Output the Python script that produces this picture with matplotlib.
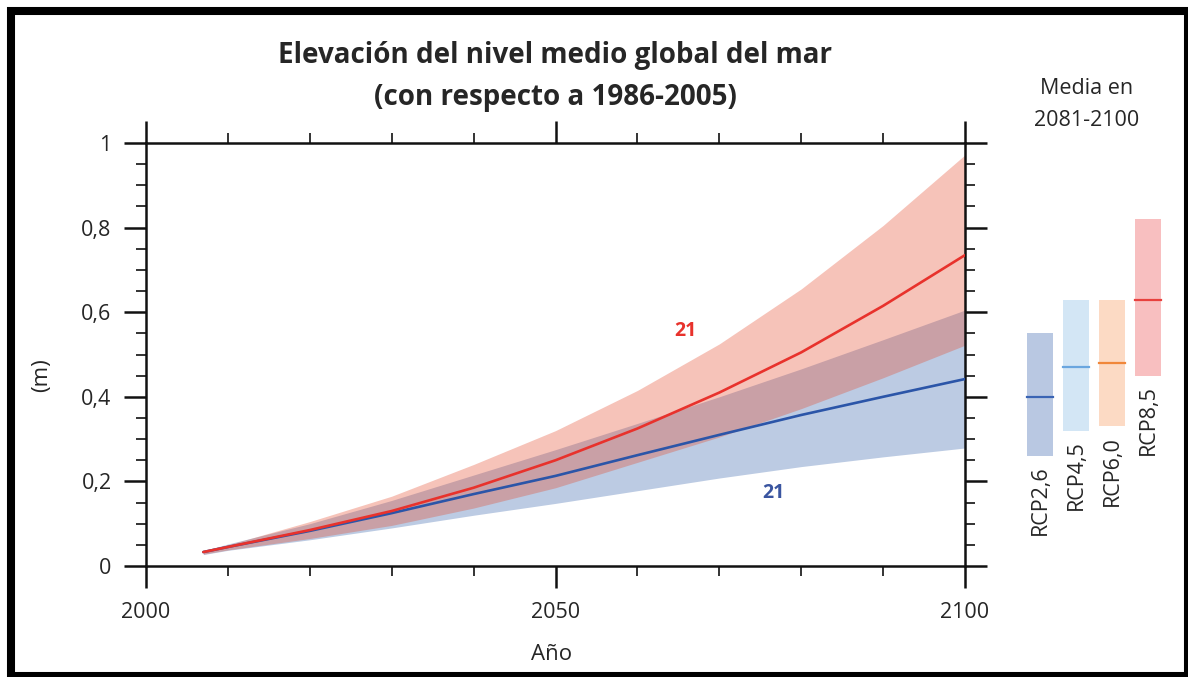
import numpy as np
import matplotlib
matplotlib.use("Agg")
import matplotlib.pyplot as plt
from matplotlib.patches import Rectangle
from matplotlib.ticker import MultipleLocator, FixedLocator

plt.rcParams['font.family'] = ['Open Sans', 'DejaVu Sans']

# projected global mean sea level rise (m), relative to 1986-2005
years = [2007, 2010, 2020, 2030, 2040, 2050, 2060, 2070, 2080, 2090, 2100]
rcp26_mean = [0.033, 0.045, 0.083, 0.125, 0.17, 0.213, 0.262, 0.31, 0.357, 0.40, 0.442]
rcp26_low = [0.027, 0.037, 0.062, 0.09, 0.12, 0.148, 0.178, 0.208, 0.235, 0.258, 0.279]
rcp26_high = [0.036, 0.052, 0.10, 0.155, 0.215, 0.275, 0.337, 0.40, 0.466, 0.535, 0.605]
rcp85_mean = [0.033, 0.045, 0.085, 0.13, 0.185, 0.25, 0.325, 0.41, 0.505, 0.615, 0.735]
rcp85_low = [0.028, 0.038, 0.065, 0.096, 0.137, 0.185, 0.245, 0.305, 0.372, 0.445, 0.522]
rcp85_high = [0.037, 0.05, 0.105, 0.165, 0.24, 0.32, 0.415, 0.525, 0.655, 0.805, 0.972]
n_models = [21, 21]

# 2081-2100 means and likely ranges
scenarios = ['RCP2,6', 'RCP4,5', 'RCP6,0', 'RCP8,5']
period_mean = [0.40, 0.47, 0.48, 0.63]
period_low = [0.26, 0.32, 0.33, 0.45]
period_high = [0.55, 0.63, 0.63, 0.82]
bar_fill = ['#b9c8e2', '#d3e6f5', '#fcdac4', '#f8bfc0']
bar_line = ['#3a64b4', '#6aa6df', '#f0873a', '#e8413e']

W, H = 1188, 677
fig = plt.figure(figsize=(W / 100, H / 100), dpi=100)
ax = fig.add_axes([146 / W, 1 - 566 / H, (965 - 146) / W, (566 - 143) / H])

txt = '#262626'
blue_fill = '#bccbe3'
red_fill = '#e4492b'
blue_line = '#2b55a8'
red_line = '#e8322c'

ax.fill_between(years, rcp26_low, rcp26_high, color=blue_fill, lw=0, zorder=1)
ax.fill_between(years, rcp85_low, rcp85_high, color=red_fill, alpha=0.33, lw=0, zorder=2)
ax.plot(years, rcp26_mean, color=blue_line, lw=1.9, zorder=3, solid_capstyle='round')
ax.plot(years, rcp85_mean, color=red_line, lw=1.9, zorder=4, solid_capstyle='round')

ax.text(2065.9, 0.556, str(n_models[1]), color=red_line, fontsize=14,
        fontweight='bold', ha='center', va='center')
ax.text(2076.6, 0.173, str(n_models[0]), color='#3a55a0', fontsize=14,
        fontweight='bold', ha='center', va='center')

ax.set_xlim(2000, 2100)
ax.set_ylim(0, 1)
ax.xaxis.set_major_locator(FixedLocator([2000, 2050, 2100]))
ax.xaxis.set_minor_locator(MultipleLocator(10))
ax.yaxis.set_minor_locator(MultipleLocator(0.05))
ax.set_yticks([0, 0.2, 0.4, 0.6, 0.8, 1.0])
ax.set_yticklabels(['0', '0,2', '0,4', '0,6', '0,8', '1'])
ax.set_xticklabels(['2000', '2050', '2100'])

for s in ax.spines.values():
    s.set_linewidth(1.8)
    s.set_color('#111111')
ax.tick_params(which='major', direction='out', length=15.8, width=1.8,
               color='#111111', top=True, right=True, labelsize=15.5,
               labelcolor=txt)
ax.tick_params(which='minor', direction='out', length=7.5, width=1.2,
               color='#111111', top=True, right=True)
ax.tick_params(axis='x', which='major', pad=10)
ax.tick_params(axis='y', which='major', pad=9)

fig.text(555 / W, 1 - 55 / H, 'Elevación del nivel medio global del mar',
         ha='center', va='center', fontsize=20, fontweight='bold', color=txt)
fig.text(555 / W, 1 - 97 / H, '(con respecto a 1986-2005)',
         ha='center', va='center', fontsize=20, fontweight='bold', color=txt)
fig.text(42 / W, 1 - 375 / H, '(m)', rotation=90, ha='center', va='center',
         fontsize=16, color=txt)
fig.text(552 / W, 1 - 654 / H, 'Año', ha='center', va='center',
         fontsize=16, color=txt)
fig.text(1087 / W, 1 - 88 / H, 'Media en', ha='center', va='center',
         fontsize=15.5, color=txt)
fig.text(1087 / W, 1 - 120 / H, '2081-2100', ha='center', va='center',
         fontsize=15.5, color=txt)

# side panel with 2081-2100 ranges, sharing the vertical scale
bx = fig.add_axes([1022 / W, 1 - 566 / H, 144 / W, (566 - 143) / H])
bx.set_xlim(-0.5, 3.5)
bx.set_ylim(0, 1)
bx.axis('off')
xs = np.arange(len(scenarios))
bx.bar(xs, np.array(period_high) - np.array(period_low), bottom=period_low,
       width=0.72, color=bar_fill, lw=0)
for i in range(len(scenarios)):
    bx.plot([xs[i] - 0.36, xs[i] + 0.36], [period_mean[i]] * 2,
            color=bar_line[i], lw=1.6)
    bx.annotate(scenarios[i], (xs[i], period_low[i]), xytext=(0, -7),
                textcoords='offset points', rotation=90, ha='center',
                va='top', fontsize=15.5, color=txt)

# black frame round the whole figure
fig.add_artist(Rectangle((11 / W, 1 / H), (W - 11) / W, (H - 12) / H,
                         transform=fig.transFigure, fill=False,
                         edgecolor='black', lw=5.8))

fig.savefig('out.png', dpi=100)
